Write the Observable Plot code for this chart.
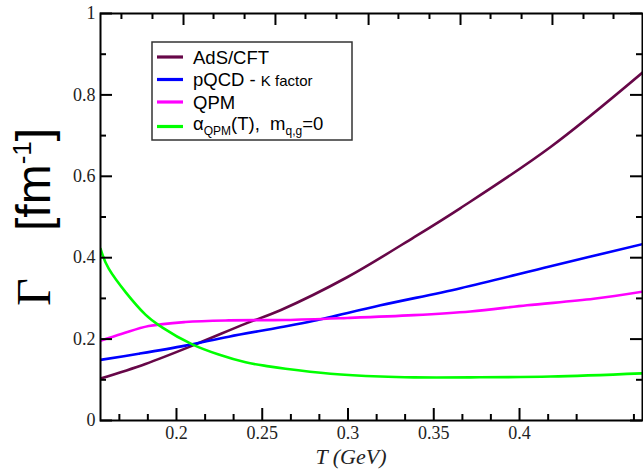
<!DOCTYPE html>
<html><head><meta charset="utf-8">
<script src="https://cdn.jsdelivr.net/npm/d3@7"></script>
<script src="https://cdn.jsdelivr.net/npm/@observablehq/plot@0.6"></script>
<style>body{margin:0;background:#fff}</style>
</head><body><div id="chart"></div>
<script>
// ---- data ----
const adsT = [0.1557, 0.1819, 0.2111, 0.2403, 0.2606, 0.2995, 0.3384, 0.3656, 0.4181, 0.4723];
const adsG = [0.103, 0.139, 0.187, 0.238, 0.271, 0.352, 0.450, 0.522, 0.672, 0.857];

const pqcdT = [0.1557, 0.1780, 0.2052, 0.2305, 0.2606, 0.2801, 0.3190, 0.3656, 0.4181, 0.4723];
const pqcdG = [0.149, 0.164, 0.184, 0.206, 0.229, 0.245, 0.283, 0.325, 0.379, 0.434];

const qpmT = [0.1557, 0.1683, 0.1838, 0.2052, 0.2305, 0.2636, 0.2995, 0.3384, 0.3714, 0.4044, 0.4433, 0.4723];
const qpmG = [0.196, 0.213, 0.232, 0.242, 0.246, 0.247, 0.252, 0.259, 0.268, 0.283, 0.299, 0.317];

const alphaT = [0.1557, 0.1605, 0.1819, 0.1916, 0.2092, 0.2246, 0.2403, 0.2538, 0.2636, 0.2898, 0.3190, 0.3384, 0.3714, 0.4181, 0.4723];
const alphaG = [0.422, 0.373, 0.260, 0.229, 0.187, 0.162, 0.143, 0.133, 0.127, 0.115, 0.108, 0.106, 0.106, 0.108, 0.116];

const seriesKeys = ["ads", "pqcd", "qpm", "alpha"];
const seriesColors = ["#670748", "#0000ff", "#ff00ff", "#00ff00"];

const xTicks = [0.2, 0.25, 0.3, 0.35, 0.4];
const xTickLabels = ["0.2", "0.25", "0.3", "0.35", "0.4"];
const xMinor = [0.1667, 0.1833, 0.2167, 0.2333, 0.2667, 0.2833, 0.3167, 0.3333, 0.3667, 0.3833, 0.4167, 0.4333, 0.4667];
const topMajor = [0.2041, 0.2577, 0.3120, 0.3656, 0.4192];
const topMinor = [0.1679, 0.1860, 0.2216, 0.2397, 0.2752, 0.2933, 0.3294, 0.3475, 0.3831, 0.4012, 0.4373, 0.4548];
const yTicks = [0, 0.2, 0.4, 0.6, 0.8, 1];
const yTickLabels = ["0", "0.2", "0.4", "0.6", "0.8", "1"];
const yMinor = [0.1, 0.3, 0.5, 0.7, 0.9];

// ---- build table ----
const seriesData = {
  ads: adsT.map((t, i) => ({T: t, G: adsG[i]})),
  pqcd: pqcdT.map((t, i) => ({T: t, G: pqcdG[i]})),
  qpm: qpmT.map((t, i) => ({T: t, G: qpmG[i]})),
  alpha: alphaT.map((t, i) => ({T: t, G: alphaG[i]}))
};

const W = 643, H = 469, mL = 100, mR = 1, mT = 13, mB = 49;
const pw = W - mL - mR, ph = H - mT - mB;
const MAJ = 12, MIN = 6;
const tickStyle = {stroke: "#000", strokeWidth: 2};
const serif = "'Liberation Serif', serif";
const sans = "'Liberation Sans', sans-serif";

const chart = Plot.plot({
  width: W, height: H,
  marginLeft: mL, marginRight: mR, marginTop: mT, marginBottom: mB,
  x: {domain: [0.1557, 0.4717]},
  y: {domain: [0, 1]},
  marks: [
    ...seriesKeys.map((k, i) => Plot.line(seriesData[k], {
      x: "T", y: "G", stroke: seriesColors[i], strokeWidth: 2.6, curve: "catmull-rom", clip: true
    })),
    Plot.tickX(xTicks, {x: d => d, insetTop: ph - MAJ, ...tickStyle}),
    Plot.tickX(xMinor, {x: d => d, insetTop: ph - MIN, ...tickStyle}),
    Plot.tickX(topMajor, {x: d => d, insetBottom: ph - MAJ, ...tickStyle}),
    Plot.tickX(topMinor, {x: d => d, insetBottom: ph - MIN, ...tickStyle}),
    Plot.tickY(yTicks, {y: d => d, insetRight: pw - MAJ, ...tickStyle}),
    Plot.tickY(yMinor, {y: d => d, insetRight: pw - MIN, ...tickStyle}),
    Plot.tickY(yTicks, {y: d => d, insetLeft: pw - MAJ, ...tickStyle}),
    Plot.tickY(yMinor, {y: d => d, insetLeft: pw - MIN, ...tickStyle}),
    Plot.frame({stroke: "#000", strokeWidth: 2}),
    Plot.axisX({ticks: xTicks, tickSize: 0, tickPadding: 6, tickFormat: (d, i) => xTickLabels[i],
      fontSize: 18, fontFamily: serif, fill: "#222", label: null}),
    Plot.axisY({ticks: yTicks, tickSize: 0, tickPadding: 5, tickFormat: (d, i) => yTickLabels[i],
      fontSize: 18, fontFamily: serif, fill: "#222", label: null})
  ]
});
document.getElementById("chart").appendChild(chart);

const svg = d3.select(chart);

// x title
svg.append("text")
  .attr("x", 351).attr("y", 464)
  .attr("text-anchor", "middle")
  .attr("font-family", serif)
  .attr("font-style", "italic").attr("font-size", 22).attr("fill", "#222")
  .text("T (GeV)");

// y title: Gamma [fm-1]
svg.append("text")
  .attr("transform", "translate(50,306) rotate(-90)")
  .attr("text-anchor", "start")
  .attr("font-family", serif)
  .attr("font-size", 48).attr("fill", "#000")
  .text("\u0393");
const yl = svg.append("text")
  .attr("transform", "translate(50,231) rotate(-90)")
  .attr("text-anchor", "start")
  .attr("font-family", sans)
  .attr("font-size", 48).attr("fill", "#000");
yl.append("tspan").text("[fm");
yl.append("tspan").attr("dy", -19).attr("font-size", 26).text("-1");
yl.append("tspan").attr("dy", 19).text("]");

// legend
const lg = svg.append("g").attr("text-anchor", "start");
lg.append("rect").attr("x", 152).attr("y", 42).attr("width", 200).attr("height", 98)
  .attr("fill", "#fff").attr("stroke", "#333").attr("stroke-width", 1.5);
const rowY = [57, 79.5, 102, 126.5];
seriesKeys.forEach((k, i) => {
  lg.append("line").attr("x1", 157).attr("x2", 183).attr("y1", rowY[i]).attr("y2", rowY[i])
    .attr("stroke", seriesColors[i]).attr("stroke-width", 3.2);
});
function row(i, dy) {
  return lg.append("text").attr("x", 193).attr("y", rowY[i] + dy)
    .attr("font-family", sans).attr("font-size", 18.5).attr("fill", "#000");
}
row(0, 6.5).text("AdS/CFT");
const r1 = row(1, 6.5);
r1.append("tspan").text("pQCD - ");
r1.append("tspan").attr("font-size", 15).text("K factor");
row(2, 6.5).text("QPM");
const r3 = row(3, 3);
r3.append("tspan").text("\u03B1");
r3.append("tspan").attr("dy", 5).attr("font-size", 12).text("QPM");
r3.append("tspan").attr("dy", -5).text("(T),\u00A0\u00A0m");
r3.append("tspan").attr("dy", 5).attr("font-size", 12).text("q,g");
r3.append("tspan").attr("dy", -5).text("=0");
</script>
</body></html>
